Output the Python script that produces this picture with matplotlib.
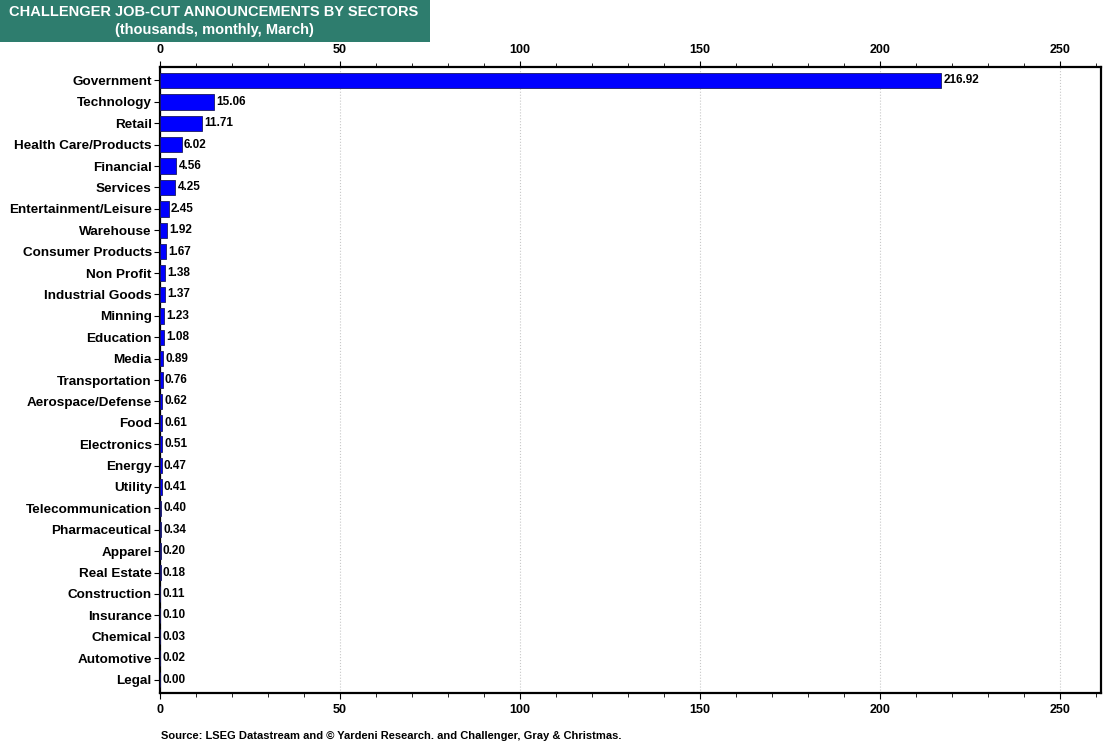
import matplotlib
matplotlib.use("Agg")
import matplotlib.pyplot as plt
from matplotlib.patches import Rectangle
from matplotlib.ticker import MultipleLocator

sectors = ["Government", "Technology", "Retail", "Health Care/Products", "Financial",
           "Services", "Entertainment/Leisure", "Warehouse", "Consumer Products",
           "Non Profit", "Industrial Goods", "Minning", "Education", "Media",
           "Transportation", "Aerospace/Defense", "Food", "Electronics", "Energy",
           "Utility", "Telecommunication", "Pharmaceutical", "Apparel", "Real Estate",
           "Construction", "Insurance", "Chemical", "Automotive", "Legal"]
job_cuts = [216.92, 15.06, 11.71, 6.02, 4.56, 4.25, 2.45, 1.92, 1.67, 1.38, 1.37,
            1.23, 1.08, 0.89, 0.76, 0.62, 0.61, 0.51, 0.47, 0.41, 0.40, 0.34, 0.20,
            0.18, 0.11, 0.10, 0.03, 0.02, 0.00]

plt.rcParams['font.family'] = ['Liberation Sans', 'DejaVu Sans']
plt.rcParams['font.weight'] = 'bold'

fig = plt.figure(figsize=(11.2, 7.46), dpi=100)
ax = fig.add_axes([0.1429, 0.071, 0.8401, 0.8392])

pos = list(range(len(sectors)))
ax.barh(pos, job_cuts, height=0.72, color='#0000FF', edgecolor='#1a1a60', linewidth=0.6, zorder=3)
for p, v in zip(pos, job_cuts):
    ax.text(v + 0.6, p, f"{v:.2f}", va='center', ha='left', fontsize=8.5, fontweight='bold', zorder=4)

ax.set_yticks(pos)
ax.set_yticklabels(sectors, fontsize=9.7, fontweight='bold')
ax.set_ylim(len(sectors) - 0.37, -0.63)
ax.set_xlim(0, 261.3)
ax.xaxis.set_major_locator(MultipleLocator(50))
ax.xaxis.set_minor_locator(MultipleLocator(10))
ax.tick_params(axis='x', which='both', top=True, labeltop=True, labelsize=9, direction='out')
ax.tick_params(axis='x', which='major', length=4, width=0.8, pad=4)
ax.tick_params(axis='x', which='minor', length=3, width=0.6)
ax.tick_params(axis='y', length=4, width=0.8, pad=2)
for lab in ax.get_xticklabels():
    lab.set_fontweight('bold')
ax.grid(axis='x', which='major', linestyle=':', color='#c8c8c8', linewidth=0.8, zorder=0)
for s in ax.spines.values():
    s.set_linewidth(1.6)

# title box
fig.patches.append(Rectangle((0, 1 - 42 / 746), 430 / 1120, 42 / 746, transform=fig.transFigure,
                             facecolor='#2E7D6E', edgecolor='none'))
fig.text(214 / 1120, 1 - 12 / 746, "CHALLENGER JOB-CUT ANNOUNCEMENTS BY SECTORS",
         ha='center', va='center', color='white', fontsize=10.5, fontweight='bold')
fig.text(214 / 1120, 1 - 30 / 746, "(thousands, monthly, March)",
         ha='center', va='center', color='white', fontsize=10.5, fontweight='bold')

fig.text(161 / 1120, 1 - 736 / 746, "Source: LSEG Datastream and \u00a9 Yardeni Research. and Challenger, Gray & Christmas.",
         ha='left', va='center', fontsize=8, fontweight='bold')

fig.savefig("out.png", dpi=100)
